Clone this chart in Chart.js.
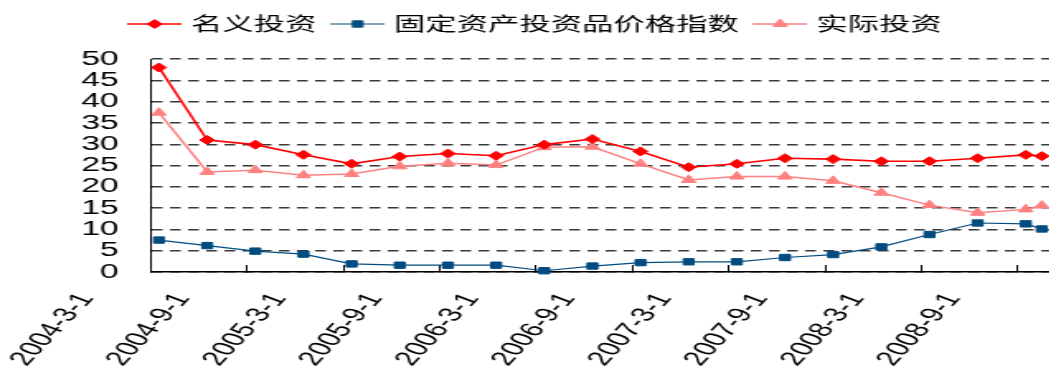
<!DOCTYPE html>
<html>
<head>
<meta charset="utf-8">
<script src="https://cdn.jsdelivr.net/npm/chart.js@4.4.1/dist/chart.umd.min.js"></script>
<style>
  html, body { margin: 0; padding: 0; background: #fff; overflow: hidden; }
  /* the whole chart is drawn narrow and widened horizontally */
  #wrap { width: 652px; height: 372px; transform: scaleX(1.65); transform-origin: 0 0; }
</style>
</head>
<body>
<div id="wrap"><canvas id="chart" width="652" height="372"></canvas></div>
<script>
// quarterly observations (last one monthly), % yoy
const dates = ['2004-3', '2004-6', '2004-9', '2004-12', '2005-3', '2005-6', '2005-9', '2005-12',
  '2006-3', '2006-6', '2006-9', '2006-12', '2007-3', '2007-6', '2007-9', '2007-12',
  '2008-3', '2008-6', '2008-9', '2008-10'];
const nominal = [48.0, 31.0, 29.9, 27.5, 25.4, 27.1, 27.8, 27.3, 29.9, 31.2,
  28.3, 24.6, 25.4, 26.7, 26.5, 26.0, 26.0, 26.7, 27.5, 27.2];
const priceIndex = [7.5, 6.2, 4.9, 4.2, 1.9, 1.6, 1.6, 1.6, 0.3, 1.4,
  2.2, 2.4, 2.4, 3.4, 4.1, 5.9, 8.8, 11.5, 11.3, 10.1];
const real = [37.4, 23.5, 23.9, 22.7, 23.0, 24.8, 25.5, 25.1, 29.3, 29.4,
  25.4, 21.6, 22.4, 22.4, 21.4, 18.6, 15.7, 13.9, 14.7, 15.6];
const tickLabels = ['2004-3-1', '2004-9-1', '2005-3-1', '2005-9-1', '2006-3-1',
  '2006-9-1', '2007-3-1', '2007-9-1', '2008-3-1', '2008-9-1'];
const yTicks = [0, 5, 10, 15, 20, 25, 30, 35, 40, 45, 50];
const seriesNames = ['名义投资', '固定资产投资品价格指数', '实际投资'];

// months since 2004-3-1
function monthIndex(s) {
  const p = s.split('-').map(Number);
  return (p[0] - 2004) * 12 + (p[1] - 3);
}

// each point sits in the middle of its month
const pts = vals => vals.map((v, i) => ({ x: monthIndex(dates[i]) + 0.5, y: v }));

const styles = [
  { color: '#ff0000', point: 'rectRot', r: 4.5, w: 1.6 },
  { color: '#004c80', point: 'rect', r: 4.5, w: 1.2 },
  { color: '#ff8080', point: 'triangle', r: 5, w: 1.5 }
];

// legend icon: short line with the marker in the middle
function legendIcon(st) {
  const c = document.createElement('canvas');
  c.width = 33; c.height = 14;
  const g = c.getContext('2d');
  g.strokeStyle = st.color; g.fillStyle = st.color; g.lineWidth = st.w;
  g.beginPath(); g.moveTo(0, 7); g.lineTo(33, 7); g.stroke();
  g.lineWidth = 1;
  Chart.helpers.drawPoint(g, { pointStyle: st.point, radius: st.r, rotation: 0, borderWidth: 1 }, 16.5, 7);
  return c;
}
const icons = styles.map(legendIcon);

// extra room under the legend
const legendSpace = {
  id: 'legendSpace',
  beforeInit(chart) {
    const fit = chart.legend.fit;
    chart.legend.fit = function () { fit.call(this); this.height = 57; };
  }
};

const datasets = [nominal, priceIndex, real].map((vals, i) => ({
  label: seriesNames[i],
  data: pts(vals),
  borderColor: styles[i].color,
  backgroundColor: styles[i].color,
  borderWidth: styles[i].w,
  pointStyle: styles[i].point,
  pointRadius: styles[i].r,
  pointBorderWidth: 1,
  pointBackgroundColor: styles[i].color,
  pointBorderColor: styles[i].color,
  tension: 0,
  clip: false
}));

new Chart(document.getElementById('chart'), {
  type: 'line',
  data: { datasets },
  plugins: [legendSpace],
  options: {
    responsive: false,
    animation: false,
    devicePixelRatio: 1,
    layout: { padding: { top: 2, left: 0, right: 0, bottom: 0 } },
    plugins: {
      tooltip: { enabled: false },
      legend: {
        position: 'top',
        labels: {
          usePointStyle: true,
          pointStyleWidth: 25,
          padding: 12.5,
          color: '#000',
          font: { family: 'Noto Sans CJK SC', size: 19 },
          generateLabels: chart => chart.data.datasets.map((ds, i) => ({
            text: ds.label,
            pointStyle: icons[i],
            fillStyle: 'transparent',
            strokeStyle: 'transparent',
            lineWidth: 0,
            fontColor: '#000',
            hidden: false,
            datasetIndex: i
          }))
        }
      }
    },
    scales: {
      x: {
        type: 'linear',
        min: 0,
        max: 57,
        afterBuildTicks: s => { s.ticks = tickLabels.map(t => ({ value: monthIndex(t) })); },
        afterFit: s => { s.height = 100; s.paddingLeft = 0; s.paddingRight = 0; },
        ticks: {
          autoSkip: false,
          minRotation: 59,
          maxRotation: 59,
          labelOffset: -39,
          padding: 24,
          color: '#000',
          font: { family: 'Liberation Sans', size: 20 },
          callback: (v, i) => tickLabels[i]
        },
        grid: { drawOnChartArea: false, drawTicks: true, tickLength: -7, color: '#000' },
        border: { color: '#000', width: 1.5 }
      },
      y: {
        min: 0,
        max: 50,
        afterBuildTicks: s => { s.ticks = yTicks.map(v => ({ value: v })); },
        afterFit: s => { s.width = 91.5; },
        ticks: {
          autoSkip: false,
          padding: 19.5,
          color: '#000',
          font: { family: 'Liberation Sans', size: 20.5 }
        },
        grid: {
          drawTicks: false,
          lineWidth: 1.4,
          color: '#3a3a3a'
        },
        border: { color: '#000', width: 1, dash: [6.5, 4.5] }
      }
    }
  }
});
</script>
</body>
</html>
